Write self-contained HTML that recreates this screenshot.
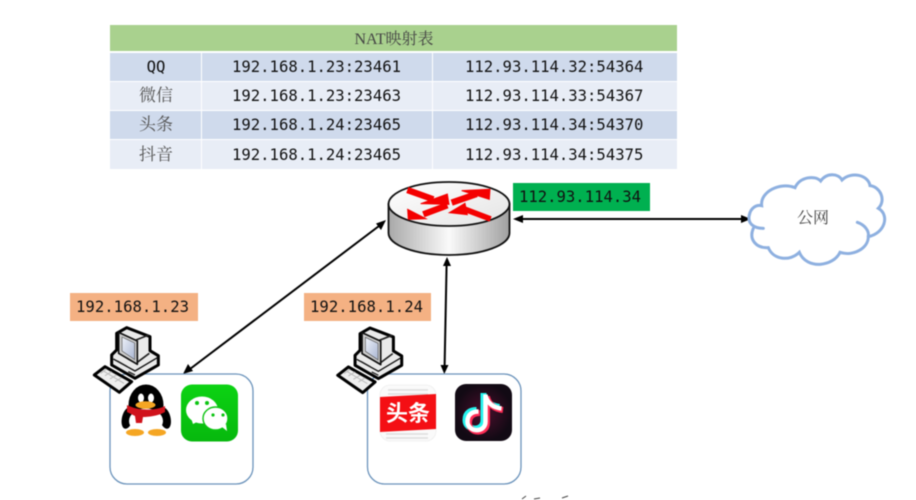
<!DOCTYPE html>
<html><head><meta charset="utf-8"><style>
html,body{margin:0;padding:0;background:#fff;width:916px;height:500px;overflow:hidden}
svg{display:block;filter:blur(.4px)}
.m{font-family:"DejaVu Sans Mono","Liberation Mono",monospace;font-size:15.6px;fill:#111}
.c{font-family:"Liberation Serif","Noto Serif CJK SC",serif;font-size:17px;fill:#555;text-anchor:middle}
</style></head><body>
<svg width="916" height="500" viewBox="0 0 916 500" xmlns="http://www.w3.org/2000/svg">
<defs>
<linearGradient id="side" x1="0" x2="1" y1="0" y2="0"><stop offset="0" stop-color="#a8a8a8"/><stop offset=".5" stop-color="#fafafa"/><stop offset="1" stop-color="#a0a0a0"/></linearGradient>
<linearGradient id="top" x1="0" x2="1" y1="0" y2="1"><stop offset="0" stop-color="#fff"/><stop offset="1" stop-color="#e4e4e4"/></linearGradient>
<linearGradient id="wx" x1="0" x2="0" y1="0" y2="1"><stop offset="0" stop-color="#0cd313"/><stop offset="1" stop-color="#07b80e"/></linearGradient>
<linearGradient id="scr" x1="0" x2="1" y1="0" y2="1"><stop offset="0" stop-color="#eef2fa"/><stop offset="1" stop-color="#aab6d2"/></linearGradient>
<radialGradient id="dy"><stop offset="0" stop-color="#4a0f2c"/><stop offset="1" stop-color="#120a14"/></radialGradient>
<g id="pc" stroke-linejoin="round">
<path d="M155,210 V240 L225,280 L295,240 V212 L270,197 V155 L200,128 L170,145 V195Z" fill="#eaeaea" stroke="#000" stroke-width="9"/>
<path d="M160,222 L225,258 L292,218" fill="none" stroke="#111" stroke-width="4"/>
<path d="M228,165 L266,150 M228,235 L268,205" stroke="#222" stroke-width="5"/>
<path d="M176,142 L232,168 V238 L176,205Z" fill="#ccc" stroke="#111" stroke-width="5"/>
<path d="M186,156 L224,174 V224 L186,198Z" fill="url(#scr)" stroke="#555" stroke-width="2"/>
<path d="M172,228 L200,244 M205,260 L225,270" stroke="#222" stroke-width="4"/>
<path d="M103,270 L135,245 L215,290 L178,322Z" fill="#eee" stroke="#000" stroke-width="9"/>
<path d="M122,265 L140,252 M135,272 L155,260 M150,282 L170,270 M165,290 L185,278 M130,258 L192,295" stroke="#bbb" stroke-width="3"/>
</g>
</defs>

<!-- table -->
<rect x="110" y="25" width="567" height="26" fill="#a9d18e"/>
<rect x="110" y="53" width="567" height="28" fill="#cfdaec"/>
<rect x="110" y="82" width="567" height="28" fill="#e8edf6"/>
<rect x="110" y="111" width="567" height="28" fill="#cfdaec"/>
<rect x="110" y="140" width="567" height="29" fill="#e8edf6"/>
<rect x="201" y="53" width="1" height="116" fill="#fff"/>
<rect x="432" y="53" width="1" height="116" fill="#fff"/>
<text x="394" y="44" class="c" style="font-size:16px;fill:#444">NAT映射表</text>
<text x="156" y="72" class="m" text-anchor="middle">QQ</text>
<text x="156" y="101" class="c">微信</text>
<text x="156" y="130" class="c">头条</text>
<text x="156" y="160" class="c">抖音</text>
<text x="232" y="72" class="m">192.168.1.23:23461</text>
<text x="232" y="101" class="m">192.168.1.23:23463</text>
<text x="232" y="130" class="m">192.168.1.24:23465</text>
<text x="232" y="160" class="m">192.168.1.24:23465</text>
<text x="465" y="72" class="m">112.93.114.32:54364</text>
<text x="465" y="101" class="m">112.93.114.33:54367</text>
<text x="465" y="130" class="m">112.93.114.34:54370</text>
<text x="465" y="160" class="m">112.93.114.34:54375</text>

<!-- labels -->
<rect x="513" y="183" width="137" height="28" fill="#00b050"/>
<text x="519" y="202" class="m" textLength="122">112.93.114.34</text>
<rect x="70" y="293" width="128" height="28" fill="#f4b183"/>
<text x="76" y="312" class="m" textLength="113">192.168.1.23</text>
<rect x="304" y="293" width="127" height="28" fill="#f4b183"/>
<text x="310" y="312" class="m" textLength="113">192.168.1.24</text>

<!-- router -->
<path d="M388.5,204 V233 C388.5,245 415,255 449,255 C483,255 509.5,245 509.5,233 V204Z" fill="url(#side)" stroke="#111" stroke-width="1.8"/>
<ellipse cx="449" cy="204" rx="60.5" ry="22" fill="url(#top)" stroke="#111" stroke-width="1.8"/>
<g transform="translate(370,170) scale(.3333)" fill="#f40000">
<path d="M112,60 L190,88" stroke="#f40000" stroke-width="19"/>
<path d="M232,72 L237,103 L152,101Z" stroke="#f40000" stroke-width="3"/>
<path d="M245,98 L320,72" stroke="#f40000" stroke-width="19"/>
<path d="M275,62 L360,58 L358,88Z" stroke="#f40000" stroke-width="3"/>
<path d="M232,106 L160,133" stroke="#f40000" stroke-width="19"/>
<path d="M113,118 L115,148 L168,146Z" stroke="#f40000" stroke-width="3"/>
<path d="M362,147 L285,118" stroke="#f40000" stroke-width="17"/>
<path d="M238,128 L285,100 L292,134Z" stroke="#f40000" stroke-width="3"/>
</g>

<!-- connectors -->
<g stroke="#000" stroke-width="2" fill="none">
<line x1="379" y1="226" x2="190" y2="369"/>
<line x1="446.6" y1="264" x2="444.6" y2="366"/>
<line x1="521" y1="219" x2="743" y2="219"/>
</g>
<g fill="#000">
<path d="M386,220 L381,230 L376,223.5Z"/>
<path d="M183,374 L188,364 L193,371Z"/>
<path d="M447,257 L451,266 L443,266Z"/>
<path d="M444.3,374 L440.5,365 L448.5,365Z"/>
<path d="M513,219 L523,215 L523,223Z"/>
<path d="M751,219 L741,215 L741,223Z"/>
</g>

<!-- cloud -->
<g transform="translate(730,165) scale(.3333)" fill="#fff" stroke="#8eb0e0" stroke-width="9" stroke-linecap="round">
<path d="M100,190 C70,190 52,175 58,150 C62,128 80,118 95,122 C90,80 150,50 195,68 C210,35 255,30 272,48 C290,22 325,25 336,45 C365,18 415,30 420,62 C450,65 470,105 445,130 C480,150 465,205 415,215 C415,250 370,275 330,262 C310,305 230,315 208,262 C180,290 130,285 115,248 C80,250 55,225 70,190"/>
<path d="M382,172 C405,180 418,198 415,215" fill="none"/>
</g>
<text x="813" y="223" class="c" style="font-size:16px;fill:#444">公网</text>

<!-- boxes -->
<rect x="110" y="374" width="143" height="110" rx="17" fill="#fff" stroke="#6b93bb" stroke-width="1.3"/>
<rect x="367.5" y="374" width="153.5" height="110" rx="17" fill="#fff" stroke="#6b93bb" stroke-width="1.3"/>

<!-- computers -->
<use href="#pc" transform="translate(60,285) scale(.3333)"/>
<use href="#pc" transform="translate(303.4,285.3) scale(.3333)"/>

<!-- QQ -->
<g>
<ellipse cx="127.5" cy="418" rx="5.5" ry="11" fill="#000" transform="rotate(14 127.5 418)"/>
<ellipse cx="165" cy="418" rx="5.5" ry="11" fill="#000" transform="rotate(-14 165 418)"/>
<ellipse cx="146" cy="405" rx="17.5" ry="20.5" fill="#000"/>
<ellipse cx="146" cy="421" rx="17" ry="12.5" fill="#fff"/>
<ellipse cx="141" cy="398" rx="3" ry="4.5" fill="#fff"/>
<ellipse cx="151" cy="398" rx="3" ry="4.5" fill="#fff"/>
<ellipse cx="145.5" cy="405" rx="10" ry="3.7" fill="#f5a623"/>
<path d="M127,405 C138,411 155,411 165,406 L165,412 C158,416 148,417 143,417 L142,423 L136,423 L135,416 L127,412Z" fill="#d0121b"/>
<ellipse cx="135" cy="432.5" rx="9" ry="3.5" fill="#f5a623"/>
<ellipse cx="157" cy="432.5" rx="9" ry="3.5" fill="#f5a623"/>
</g>

<!-- WeChat -->
<rect x="181" y="384.5" width="57" height="57" rx="11" fill="url(#wx)"/>
<ellipse cx="202" cy="410" rx="16" ry="13.5" fill="#fff"/>
<path d="M191,418 L193,424 L199,421Z" fill="#fff"/>
<ellipse cx="215.5" cy="418.5" rx="12.5" ry="11.5" fill="#fff" stroke="#0cc412" stroke-width="1.4"/>
<path d="M222,427 L227,431 L226,424Z" fill="#fff"/>
<circle cx="197" cy="403" r="2" fill="#0cc412"/><circle cx="207" cy="403" r="2" fill="#0cc412"/>
<circle cx="213" cy="415" r="1.6" fill="#0cc412"/><circle cx="223" cy="415" r="1.6" fill="#0cc412"/>

<!-- Toutiao -->
<rect x="380" y="385" width="56" height="56" rx="10" fill="#fafafa" stroke="#eee" stroke-width=".8"/>
<path d="M388,390H428M388,394H428M386,434H428M386,438H428" stroke="#ddd" stroke-width="1.4"/>
<path d="M380,397 L436,394 V429 L380,432Z" fill="#f40f14"/>
<text x="408" y="421" text-anchor="middle" fill="#fff" font-family="'Noto Sans CJK SC','WenQuanYi Zen Hei',sans-serif" font-weight="700" font-size="22">头条</text>

<!-- Douyin -->
<rect x="455" y="384" width="57" height="57" rx="11" fill="url(#dy)"/>
<g fill="none">
<path d="M485,394 V421 C485,433 467,432 467,421 C467,413 473,411 478,411 M485,395 C487,403 493,407 501,408" stroke="#25f4ee" stroke-width="6" transform="translate(-1.5,-1)"/>
<path d="M485,394 V421 C485,433 467,432 467,421 C467,413 473,411 478,411 M485,395 C487,403 493,407 501,408" stroke="#fe2c55" stroke-width="6" transform="translate(2,2)"/>
<path d="M485,394 V421 C485,433 467,432 467,421 C467,413 473,411 478,411 M485,395 C487,403 493,407 501,408" stroke="#fff" stroke-width="4.5" transform="translate(.5,.5)"/>
</g>

<!-- clipped marks at bottom -->
<path d="M522,499 L526,496 M534,499 L540,498 M562,498 L568,496" stroke="#444" stroke-width="1"/>
</svg>
</body></html>
